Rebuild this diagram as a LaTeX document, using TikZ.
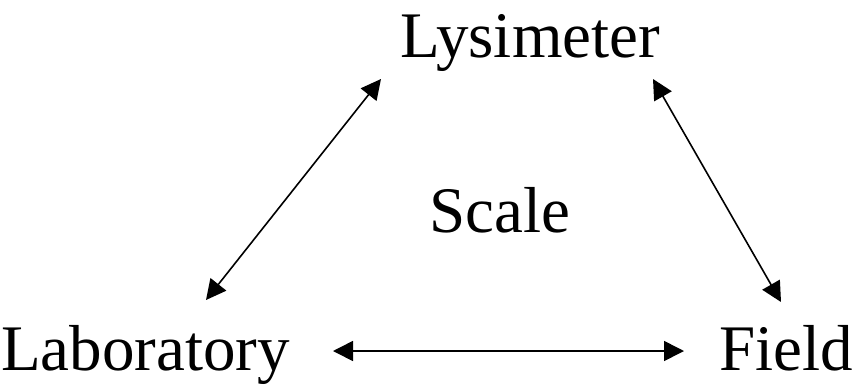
\documentclass[tikz,border=0pt]{standalone}
\usepackage{fontspec}
\setmainfont{Liberation Serif}
\usetikzlibrary{arrows.meta}
\begin{document}
\begin{tikzpicture}[x=1pt,y=-1pt,
  lbl/.style={font=\fontsize{65}{70}\selectfont, inner sep=0pt, anchor=base},
  link/.style={line width=1.6pt, {Triangle[length=20pt,width=20pt]}-{Triangle[length=20pt,width=20pt]}}]
  \useasboundingbox (0,0) rectangle (854,389);
  % labels
  \node[lbl] (lys) at (530,57) {Lysimeter};
  \node[lbl] (scale) at (500,232) {Scale};
  \node[lbl, anchor=base west] (lab) at (1,370) {Laboratory};
  \node[lbl, anchor=base east] (field) at (853,370) {Field};
  % arrow ends
  \coordinate (lysL) at (381,79);
  \coordinate (lysR) at (653,79);
  \coordinate (labT) at (206,300);
  \coordinate (labR) at (333,351);
  \coordinate (fieldT) at (781,302);
  \coordinate (fieldL) at (684,351);
  % connectors
  \draw[link] (labT) -- (lysL);
  \draw[link] (lysR) -- (fieldT);
  \draw[link] (labR) -- (fieldL);
\end{tikzpicture}
\end{document}
